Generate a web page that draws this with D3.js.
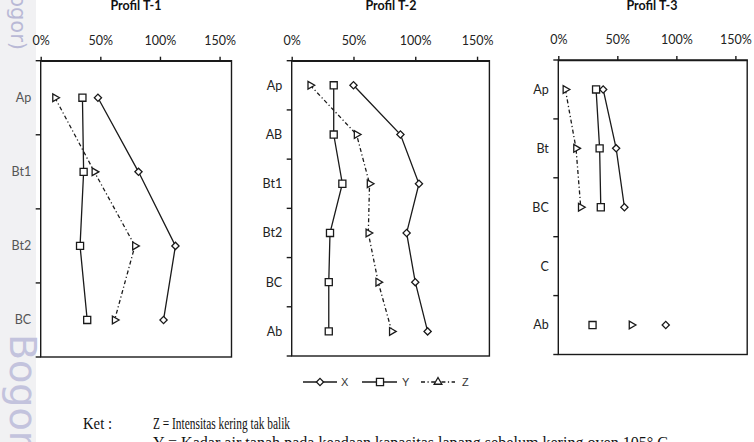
<!DOCTYPE html>
<html><head><meta charset="utf-8">
<script src="https://cdn.jsdelivr.net/npm/d3@7"></script>
<style>
html,body{margin:0;padding:0;background:#fff;}
svg{display:block;}
</style></head>
<body>
<svg id="chart" width="754" height="442"></svg>
<script>
// ---------- data ----------
const titles = ["Profil T-1", "Profil T-2", "Profil T-3"];
const tickValues = [0, 0.5, 1, 1.5];
const seriesNames = ["X", "Y", "Z"];

const p1Cats = ["Ap", "Bt1", "Bt2", "BC"];
const p1X = [0.48, 0.82, 1.13, 1.03];
const p1Y = [0.35, 0.36, 0.33, 0.39];
const p1Z = [0.12, 0.45, 0.79, 0.62];

const p2Cats = ["Ap", "AB", "Bt1", "Bt2", "BC", "Ab"];
const p2X = [0.50, 0.88, 1.03, 0.93, 1.00, 1.10];
const p2Y = [0.34, 0.34, 0.41, 0.31, 0.30, 0.30];
const p2Z = [0.15, 0.525, 0.63, 0.62, 0.70, 0.81];

const p3Cats = ["Ap", "Bt", "BC", "C", "Ab"];
const p3X = [0.38, 0.49, 0.56, null, 0.91];
const p3Y = [0.32, 0.35, 0.36, null, 0.29];
const p3Z = [0.06, 0.15, 0.19, null, 0.62];

const noteLabel = "Ket :";
const noteLines = [
  "Z = Intensitas kering tak balik",
  "Y = Kadar air tanah pada keadaan kapasitas lapang sebelum kering oven 105\u00B0 C"
];

// ---------- layout ----------
const panels = [
  {title: titles[0], cats: p1Cats, series: [p1X, p1Y, p1Z], x0: 40.7, x1: 231.5, top: 60.7, bottom: 357, titleX: 136, catColor: "#555"},
  {title: titles[1], cats: p2Cats, series: [p2X, p2Y, p2Z], x0: 291.7, x1: 489.4, top: 60.7, bottom: 356, titleX: 391, catColor: "#222"},
  {title: titles[2], cats: p3Cats, series: [p3X, p3Y, p3Z], x0: 558.3, x1: 747.2, top: 60, bottom: 354.5, titleX: 652, catColor: "#222"}
];
const FONT = "Lato, 'Open Sans', sans-serif";
const ink = "#1a1a1a";

const svg = d3.select("#chart");

// left gray strip + watermark
svg.append("rect").attr("x", 0).attr("y", 0).attr("width", 36).attr("height", 442).attr("fill", "#f1f1f3");
svg.append("text").attr("transform", "translate(11,50) rotate(90)")
  .attr("text-anchor", "end").attr("font-family", "'DejaVu Sans', sans-serif")
  .attr("font-size", 21).attr("fill", "#b9b9d6").text("IPB (Bogor)");
svg.append("text").attr("transform", "translate(10,334) rotate(90)")
  .attr("font-family", "'DejaVu Sans', sans-serif")
  .attr("font-size", 38).attr("fill", "#c3c3dd").text("Bogor Agricultural");

// markers
const diamondPath = d3.symbol(d3.symbolSquare, 26)();
const squarePath = d3.symbol(d3.symbolSquare, 50)();
const trianglePath = d3.symbol(d3.symbolTriangle, 26)();

function drawMarker(g, kind, x, y, rotateTri) {
  let p, rot = 0;
  if (kind === 0) { p = diamondPath; rot = 45; }
  else if (kind === 1) { p = squarePath; }
  else { p = trianglePath; rot = rotateTri ? 90 : 0; }
  g.append("path").attr("d", p)
    .attr("transform", `translate(${x},${y}) rotate(${rot})`)
    .attr("fill", "#fff").attr("stroke", ink).attr("stroke-width", 1.3);
}
const dashes = [null, null, "4,2.5,1.2,2.5"];

panels.forEach(P => {
  const g = svg.append("g");
  const x = d3.scaleLinear().domain([0, 1.6]).range([P.x0, P.x1]);
  const y = d3.scaleBand().domain(P.cats).range([P.top, P.bottom]).paddingInner(0).paddingOuter(0);
  const cy = c => y(c) + y.bandwidth() / 2;

  // title
  g.append("text").attr("x", P.titleX).attr("y", 9.5).attr("text-anchor", "middle")
    .attr("font-family", FONT).attr("font-weight", "bold").attr("font-size", 12.5)
    .attr("fill", "#111").text(P.title);

  // plot frame
  g.append("rect").attr("x", P.x0).attr("y", P.top)
    .attr("width", P.x1 - P.x0).attr("height", P.bottom - P.top)
    .attr("fill", "none").attr("stroke", ink).attr("stroke-width", 1.4);

  // top axis
  const ax = g.append("g").attr("transform", `translate(0,${P.top})`)
    .call(d3.axisTop(x).tickValues(tickValues).tickFormat(d3.format(".0%"))
      .tickSizeInner(4).tickSizeOuter(0).tickPadding(12));
  ax.select(".domain").attr("stroke", ink).attr("stroke-width", 1.4);
  ax.selectAll(".tick line").attr("stroke", ink).attr("stroke-width", 1.4);
  ax.selectAll(".tick text").attr("font-family", FONT).attr("font-size", 12.5).attr("fill", "#222");

  // left axis: ticks at band boundaries, labels at band centres
  const bounds = P.cats.map(c => y(c)).concat([y.range()[1]]);
  g.selectAll(".bt").data(bounds).enter().append("line")
    .attr("x1", P.x0 - 5).attr("x2", P.x0).attr("y1", d => d).attr("y2", d => d)
    .attr("stroke", ink).attr("stroke-width", 1.4);
  g.selectAll(".cl").data(P.cats).enter().append("text")
    .attr("x", P.x0 - 9.5).attr("y", d => cy(d)).attr("dy", "0.35em")
    .attr("text-anchor", "end").attr("font-family", FONT).attr("font-size", 12.5)
    .attr("fill", P.catColor).text(d => d);

  // lines
  P.series.forEach((vals, si) => {
    const pts = P.cats.map((c, i) => ({c, v: vals[i]}));
    const line = d3.line().defined(d => d.v != null).x(d => x(d.v)).y(d => cy(d.c));
    g.append("path").attr("d", line(pts)).attr("fill", "none")
      .attr("stroke", ink).attr("stroke-width", 1.3)
      .attr("stroke-dasharray", dashes[si]);
  });
  // markers
  P.series.forEach((vals, si) => {
    P.cats.forEach((c, i) => {
      if (vals[i] != null) drawMarker(g, si, x(vals[i]), cy(c), true);
    });
  });
});

// legend
const legend = [
  {l1: 303, l2: 337, m: 320, t: 341},
  {l1: 362, l2: 397, m: 380, t: 402},
  {l1: 421, l2: 455, m: 438, t: 462}
];
const ly = 382;
const lg = svg.append("g");
legend.forEach((L, i) => {
  lg.append("line").attr("x1", L.l1).attr("x2", L.l2).attr("y1", ly).attr("y2", ly)
    .attr("stroke", ink).attr("stroke-width", 1.3).attr("stroke-dasharray", dashes[i]);
  drawMarker(lg, i, L.m, ly, false);
  lg.append("text").attr("x", L.t).attr("y", ly).attr("dy", "0.35em")
    .attr("font-family", "'Liberation Sans', Arial, sans-serif").attr("font-size", 11)
    .attr("fill", "#333").text(seriesNames[i]);
});

// notes
const serif = "'Liberation Serif', 'Times New Roman', serif";
svg.append("text").attr("x", 83).attr("y", 429).attr("font-family", serif)
  .attr("font-size", 16.5).attr("fill", "#111")
  .attr("textLength", 29).attr("lengthAdjust", "spacingAndGlyphs").text(noteLabel);
svg.append("text").attr("x", 153).attr("y", 429).attr("font-family", serif)
  .attr("font-size", 16.5).attr("fill", "#111")
  .attr("textLength", 137).attr("lengthAdjust", "spacingAndGlyphs").text(noteLines[0]);
svg.append("text").attr("x", 153).attr("y", 448).attr("font-family", serif)
  .attr("font-size", 16.5).attr("fill", "#111")
  .attr("textLength", 515).attr("lengthAdjust", "spacingAndGlyphs").text(noteLines[1]);
</script>
</body></html>
